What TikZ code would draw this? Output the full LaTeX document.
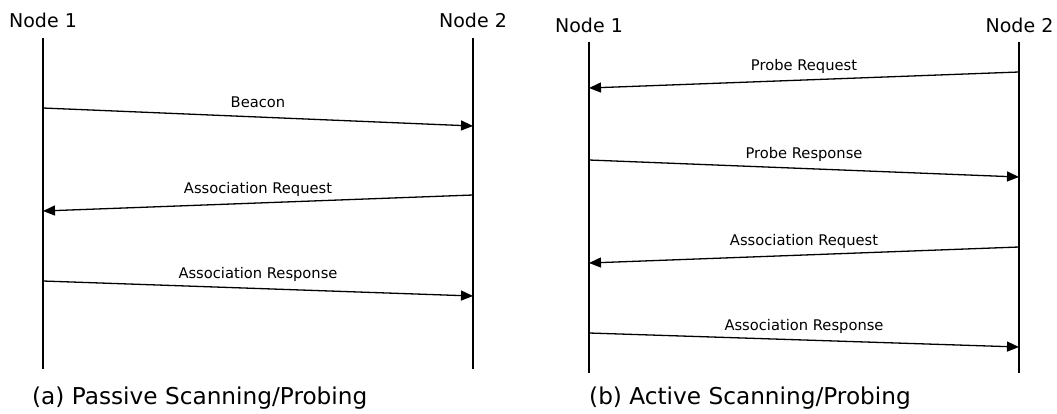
\documentclass[tikz,border=0pt]{standalone}
\usepackage{fontspec}
\setmainfont{DejaVu Sans}
\usetikzlibrary{arrows.meta}
\begin{document}
\begin{tikzpicture}[x=1pt,y=-1pt,
  lifeline/.style={line width=1.6pt},
  msg/.style={line width=1.3pt,-{Triangle[length=12pt,width=10pt]}},
  msglabel/.style={midway,anchor=base,yshift=10pt,inner sep=0pt,font=\fontsize{14.7pt}{17pt}\selectfont},
  actor/.style={anchor=base,inner sep=0pt,font=\fontsize{19pt}{22pt}\selectfont},
  caption/.style={anchor=base west,inner sep=0pt,font=\fontsize{23.2pt}{27pt}\selectfont}]
\useasboundingbox (0,0) rectangle (1057,413);

% ---- (a) passive scanning ----
\node[actor] (aN1) at (43,27.5) {Node 1};
\node[actor] (aN2) at (473,27.5) {Node 2};
\coordinate (aN1t) at (43,38);   \coordinate (aN1b) at (43,369);
\coordinate (aN2t) at (473,38);  \coordinate (aN2b) at (473,369);
\draw[lifeline] (aN1t) -- (aN1b);
\draw[lifeline] (aN2t) -- (aN2b);

\coordinate (aB1) at (43,108);  \coordinate (aB2) at (473,126);
\coordinate (aQ2) at (473,195); \coordinate (aQ1) at (43,211);
\coordinate (aR1) at (43,281);  \coordinate (aR2) at (473,296);
\draw[msg] (aB1) -- node[msglabel] {Beacon} (aB2);
\draw[msg] (aQ2) -- node[msglabel] {Association Request} (aQ1);
\draw[msg] (aR1) -- node[msglabel] {Association Response} (aR2);

\node[caption] (capA) at (32,404) {(a) Passive Scanning/Probing};

% ---- (b) active scanning ----
\node[actor] (bN1) at (589,32) {Node 1};
\node[actor] (bN2) at (1019.5,32) {Node 2};
\coordinate (bN1t) at (589,42);   \coordinate (bN1b) at (589,373);
\coordinate (bN2t) at (1019,42);  \coordinate (bN2b) at (1019,373);
\draw[lifeline] (bN1t) -- (bN1b);
\draw[lifeline] (bN2t) -- (bN2b);

\coordinate (bP2) at (1019,72);  \coordinate (bP1) at (589,88);
\coordinate (bS1) at (589,160);  \coordinate (bS2) at (1019,177);
\coordinate (bQ2) at (1019,247); \coordinate (bQ1) at (589,263);
\coordinate (bR1) at (589,333);  \coordinate (bR2) at (1019,347);
\draw[msg] (bP2) -- node[msglabel] {Probe Request} (bP1);
\draw[msg] (bS1) -- node[msglabel] {Probe Response} (bS2);
\draw[msg] (bQ2) -- node[msglabel] {Association Request} (bQ1);
\draw[msg] (bR1) -- node[msglabel] {Association Response} (bR2);

\node[caption] (capB) at (589,404) {(b) Active Scanning/Probing};
\end{tikzpicture}
\end{document}
